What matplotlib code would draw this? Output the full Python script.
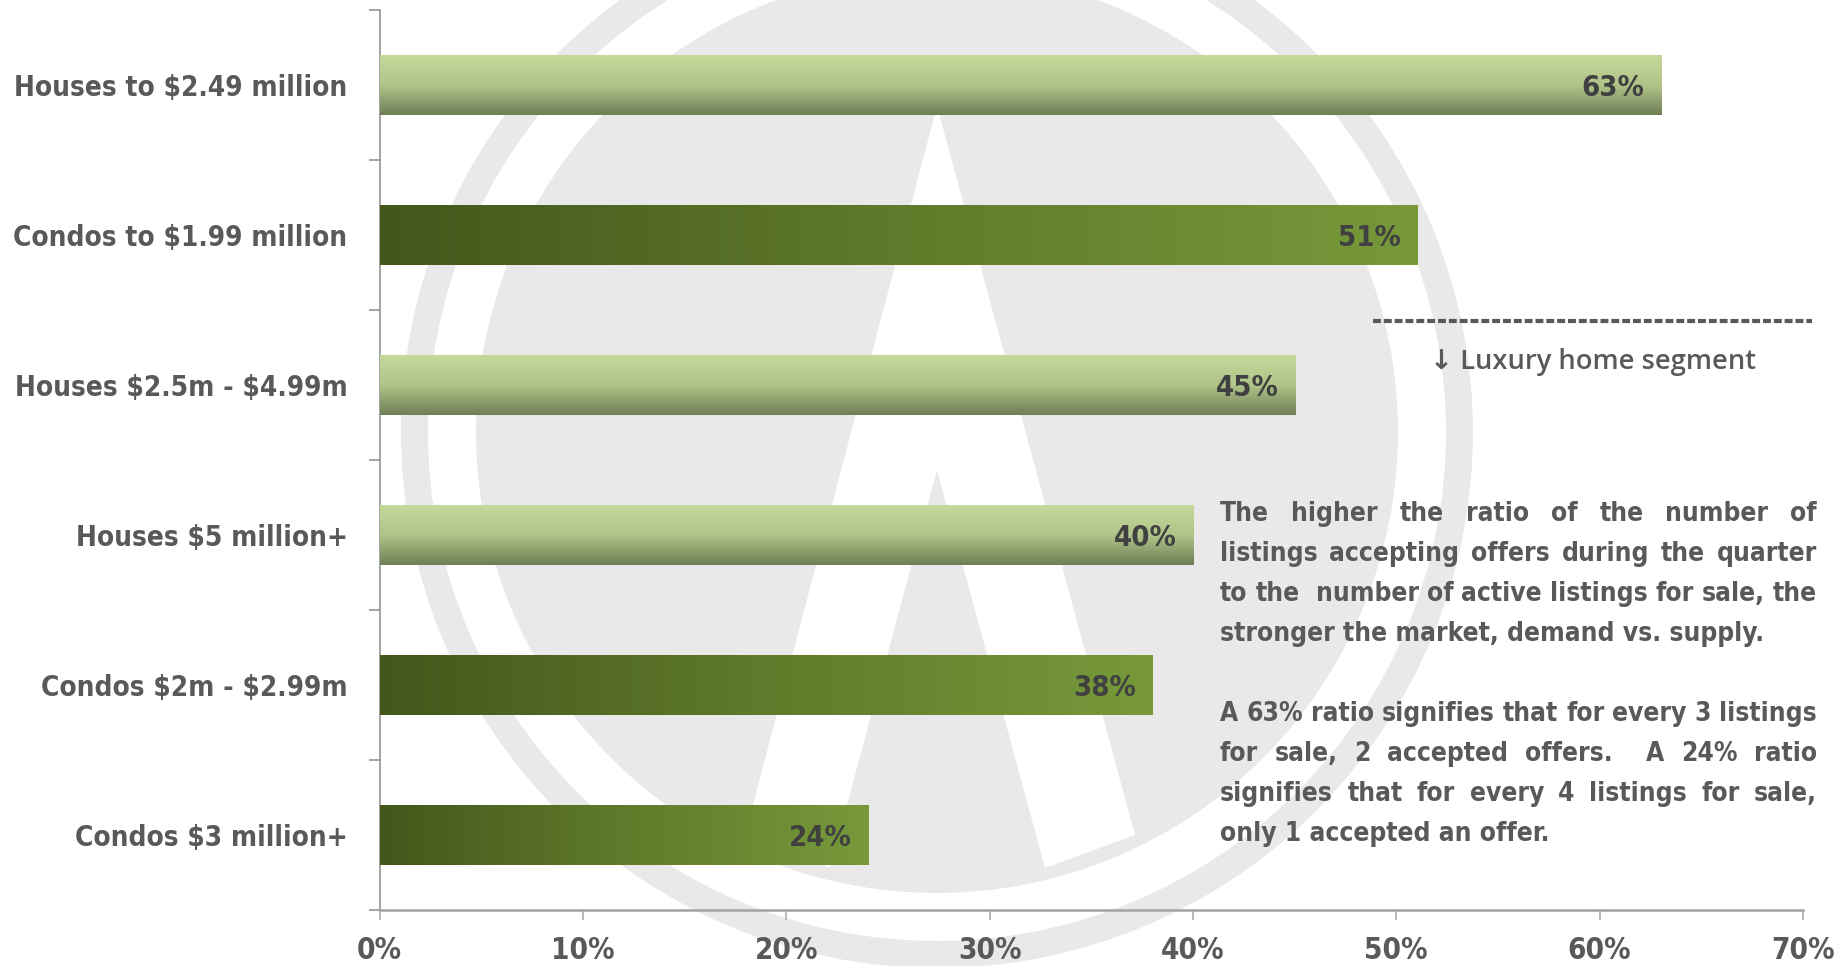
import logging
import numpy as np
import matplotlib
matplotlib.use("Agg")
import matplotlib.pyplot as plt
from matplotlib.patches import Circle, Polygon
from matplotlib.colors import LinearSegmentedColormap
from matplotlib.font_manager import FontProperties

logging.getLogger("matplotlib.font_manager").setLevel(logging.ERROR)
plt.rcParams["text.parse_math"] = False

# ---------------- data ----------------
categories = [
    "Houses to $2.49 million",
    "Condos to $1.99 million",
    "Houses $2.5m - $4.99m",
    "Houses $5 million+",
    "Condos $2m - $2.99m",
    "Condos $3 million+",
]
ratios = [63, 51, 45, 40, 38, 24]
kinds = ["house", "condo", "house", "house", "condo", "condo"]
x_ticks = [0, 10, 20, 30, 40, 50, 60, 70]
x_tick_labels = ["0%", "10%", "20%", "30%", "40%", "50%", "60%", "70%"]
segment_label = "\u2193 Luxury home segment"
note_par1 = [
    "The higher the ratio of the number of",
    "listings accepting offers during the quarter",
    "to the  number of active listings for sale, the",
    "stronger the market, demand vs. supply.",
]
note_par2 = [
    "A 63% ratio signifies that for every 3 listings",
    "for sale, 2 accepted offers.  A 24% ratio",
    "signifies that for every 4 listings for sale,",
    "only 1 accepted an offer.",
]

# ---------------- style ----------------
W, H = 1848, 966
COND = ["DejaVu Sans"]
CK = dict(family=COND, weight="bold", stretch="condensed")
GRAY = "#595959"
DARK = "#404040"
WM = "#e9e9e9"

fig = plt.figure(figsize=(W / 100, H / 100), dpi=100)
fig.patch.set_facecolor("white")
renderer = fig.canvas.get_renderer()


def text_width(s, size, **kw):
    t = fig.text(0, 0, s, fontsize=size, **kw)
    w = t.get_window_extent(renderer).width
    t.remove()
    return w


def fit_size(s, target_px, **kw):
    return 20.0 * target_px / text_width(s, 20, **kw)


cat_size = fit_size(categories[0], 333, **CK)
val_size = fit_size("63%", 57, **CK) * 1.1
tick_size = fit_size("20%", 54, **CK) * 1.18
par_size = fit_size(note_par1[-1], 544, **CK)
seg_size = fit_size(segment_label, 326, family=["Open Sans", "DejaVu Sans"], weight="semibold")

# ---------------- watermark background ----------------
bg = fig.add_axes([0, 0, 1, 1], zorder=0)
bg.set_xlim(0, W)
bg.set_ylim(H, 0)
bg.axis("off")
cx, cy = 937, 432
bg.add_patch(Circle((cx, cy), 536, color=WM, lw=0))
bg.add_patch(Circle((cx, cy), 509, color="white", lw=0))
bg.add_patch(Circle((cx, cy), 461, color=WM, lw=0))
bg.add_patch(Polygon([(937, 106), (1135, 835), (1045, 868), (937, 470),
                      (830, 868), (745, 835)], closed=True, color="white", lw=0))

# ---------------- main axes ----------------
ax = fig.add_axes([379.5 / W, 1 - 910 / H, (1803 - 379.5) / W, 900 / H], zorder=1)
ax.patch.set_alpha(0)

ypos = np.arange(len(categories))
base_colors = ["#9aae74" if k == "house" else "#5d772a" for k in kinds]
bars = ax.barh(ypos, ratios, height=0.4, color=base_colors, lw=0, zorder=2)

house_cmap = LinearSegmentedColormap.from_list("house", ["#c5d99b", "#b0c489", "#6f7e56"])
condo_cmap = LinearSegmentedColormap.from_list("condo", ["#44561b", "#5f7b2b", "#77993a"])

for bar, kind in zip(bars, kinds):
    x0, y0, w, h = bar.get_x(), bar.get_y(), bar.get_width(), bar.get_height()
    if kind == "house":
        grad = np.linspace(0, 1, 256).reshape(-1, 1)
        cmap = house_cmap
    else:
        grad = np.linspace(0, 1, 256).reshape(1, -1)
        cmap = condo_cmap
    im = ax.imshow(grad, cmap=cmap, extent=[x0, x0 + w, y0 + h, y0], origin="upper",
                   aspect="auto", interpolation="bilinear", zorder=3)
    im.set_clip_path(bar)

for yi, v in zip(ypos, ratios):
    ax.annotate(f"{v}%", xy=(v, yi), xytext=(-11.5, 0), textcoords="offset points",
                ha="right", va="center_baseline", fontsize=val_size, color=DARK,
                zorder=5, **CK)

ax.set_xlim(0, 70)
ax.set_ylim(len(categories) - 0.5, -0.5)

for s in ("top", "right"):
    ax.spines[s].set_visible(False)
ax.spines["left"].set_color("#8c8c8c")
ax.spines["left"].set_linewidth(1.1)
ax.spines["bottom"].set_color("#a3a3a3")
ax.spines["bottom"].set_linewidth(1.8)

ax.set_xticks(x_ticks, x_tick_labels)
ax.tick_params(axis="x", direction="out", length=7, width=1.1, color="#a3a3a3",
               pad=12, labelcolor=GRAY)
tick_fp = FontProperties(size=tick_size, **CK)
for lbl in ax.get_xticklabels():
    lbl.set_fontproperties(tick_fp)

ax.set_yticks(ypos, categories)
ax.set_yticks(np.arange(-0.5, len(categories), 1.0), minor=True)
ax.tick_params(axis="y", which="major", length=0, pad=23, labelcolor=GRAY)
ax.tick_params(axis="y", which="minor", direction="out", length=8, width=1.1, color="#8c8c8c")
cat_fp = FontProperties(size=cat_size, **CK)
for lbl in ax.get_yticklabels():
    lbl.set_fontproperties(cat_fp)

# ---------------- annotations overlay ----------------
ov = fig.add_axes([0, 0, 1, 1], zorder=3)
ov.set_xlim(0, W)
ov.set_ylim(H, 0)
ov.axis("off")
ov.patch.set_alpha(0)

ov.plot([1373, 1812], [320.6, 320.6], color=GRAY, lw=3.0, linestyle=(0, (1.9, 0.7)),
        solid_capstyle="butt", dash_capstyle="butt")
ov.text(1430, 362, segment_label, ha="left", va="center", fontsize=seg_size,
        family=["Open Sans", "DejaVu Sans"], weight="semibold", color=GRAY)


def draw_paragraph(lines, x0, x1, y_first, step):
    for i, line in enumerate(lines):
        yb = y_first + i * step
        last = i == len(lines) - 1
        if last:
            ov.text(x0, yb, line, ha="left", va="baseline", fontsize=par_size,
                    color=GRAY, **CK)
            continue
        words = line.split(" ")
        texts = [ov.text(0, yb, wd, ha="left", va="baseline", fontsize=par_size,
                         color=GRAY, **CK) for wd in words]
        widths = [t.get_window_extent(renderer).width if wd else 0.0
                  for t, wd in zip(texts, words)]
        gap = (x1 - x0 - sum(widths)) / (len(words) - 1)
        x = x0
        for t, wdt in zip(texts, widths):
            t.set_position((x, yb))
            x += wdt + gap


draw_paragraph(note_par1, 1220, 1817, 521, 40)
draw_paragraph(note_par2, 1220, 1817, 721, 40)

fig.savefig("out.png", dpi=100, facecolor="white")
